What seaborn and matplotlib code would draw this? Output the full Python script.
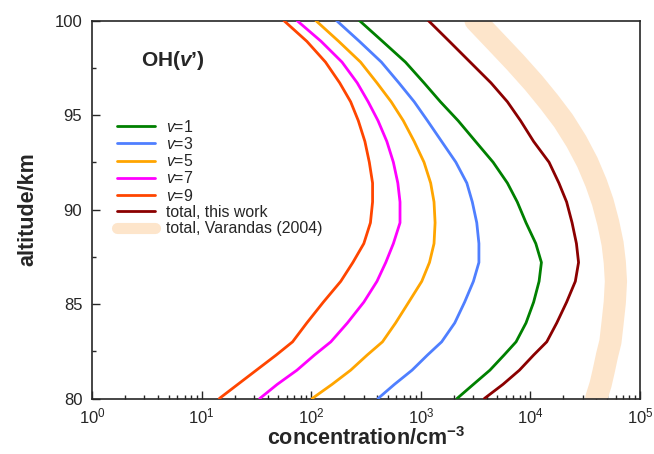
#%% OH(v') vertical profiles

import numpy as np
import pandas as pd
import matplotlib
matplotlib.use('Agg')
import matplotlib.pyplot as plt
import seaborn as sns
from matplotlib.ticker import MultipleLocator

#%% Data (concentration in cm^-3)

altitude = [80, 80.75, 81.5, 82.3, 83, 84, 85.1, 86.2, 87.2, 88.2, 89.3,
            90.4, 91.4, 92.5, 93.6, 94.7, 95.7, 96.7, 97.8, 98.9, 100]

conc_v1 = [2140, 3020, 4270, 5750, 7400, 9120, 10700, 12000, 12600, 11200, 9120,
           7590, 6170, 4570, 3160, 2190, 1510, 1070, 724, 447, 275]
conc_v3 = [407, 575, 832, 1150, 1550, 2040, 2510, 3020, 3390, 3390, 3240,
           2950, 2630, 2090, 1550, 1150, 871, 631, 437, 275, 170]
conc_v5 = [102, 155, 229, 324, 447, 589, 776, 1020, 1200, 1320, 1350,
           1320, 1230, 1070, 871, 692, 537, 398, 282, 178, 110]
conc_v7 = [33.9, 49, 74.1, 107, 151, 214, 302, 398, 479, 562, 646,
           646, 617, 562, 490, 407, 331, 263, 191, 123, 74.1]
conc_v9 = [14.5, 21.4, 31.6, 47.9, 67.6, 91.2, 129, 186, 240, 302, 347,
           363, 363, 339, 309, 269, 229, 182, 135, 91.2, 56.2]
conc_total = [3800, 5620, 7940, 10700, 14100, 17400, 21400, 25700, 27500, 26300, 24000,
              21400, 18200, 14800, 10700, 8130, 6170, 4370, 2820, 1820, 1170]
conc_varandas = [39800, 43700, 46800, 50100, 53700, 56200, 58900, 60300, 58900, 56200, 51300,
                 45700, 39800, 33100, 26300, 20000, 14800, 10700, 7240, 4790, 3160]

labels = ['$v$=1', '$v$=3', '$v$=5', '$v$=7', '$v$=9',
          'total, this work', 'total, Varandas (2004)']
colors = ['#008000', '#4f7fff', '#ffa500', '#ff00ff', '#ff4500',
          '#8b0000', '#fde5cb']

series = [conc_v1, conc_v3, conc_v5, conc_v7, conc_v9, conc_total, conc_varandas]

#%% Style

sns.set_style('ticks')
plt.rcParams['font.family'] = ['Liberation Sans', 'DejaVu Sans']
plt.rcParams['mathtext.fontset'] = 'custom'
plt.rcParams['mathtext.rm'] = 'Liberation Sans'
plt.rcParams['mathtext.it'] = 'Liberation Sans:italic'
plt.rcParams['mathtext.bf'] = 'Liberation Sans:bold'
plt.rcParams['mathtext.bfit'] = 'Liberation Sans:bold:italic'

fig = plt.figure(figsize=(6.54, 4.54), dpi=100)
ax = fig.add_axes([0.1407, 0.1222, 0.8379, 0.8326])

#%% Plot

for lab, col, vals in zip(labels, colors, series):
    df = pd.DataFrame({'conc': vals, 'alt': altitude})
    if 'Varandas' in lab:
        lw, z = 16, 1
    else:
        lw, z = 2, 3
    sns.lineplot(data=df, x='conc', y='alt', sort=False, estimator=None,
                 color=col, linewidth=lw, ax=ax, zorder=z, label=lab)

ax.set_xscale('log')
ax.set_xlim(1, 1e5)
ax.set_ylim(80, 100)
ax.yaxis.set_major_locator(MultipleLocator(5))
ax.yaxis.set_minor_locator(MultipleLocator(2.5))
ax.tick_params(which='both', direction='in', top=False, right=False, labelsize=12)
ax.tick_params(which='major', length=6, width=1)
ax.tick_params(which='minor', length=3, width=1)
ax.tick_params(axis='x', pad=6)
ax.tick_params(axis='y', pad=7)
for s in ax.spines.values():
    s.set_linewidth(1.2)

ax.set_xlabel(r'concentration/cm$^{\mathbf{-3}}$', fontsize=15.5, fontweight='bold', labelpad=0)
ax.set_ylabel('altitude/km', fontsize=15.5, fontweight='bold', labelpad=12)

ax.text(0.09, 0.893, r"OH($\mathbfit{v}$’)", transform=ax.transAxes,
        fontsize=15, fontweight='bold', va='center')

leg = ax.legend(loc='upper left', bbox_to_anchor=(0.02, 0.778), frameon=False,
                fontsize=11.4, handlelength=2.4, handletextpad=0.7, labelspacing=0.08)
leg.legend_handles[-1].set_linewidth(8)

fig.savefig('out.png', dpi=100)
